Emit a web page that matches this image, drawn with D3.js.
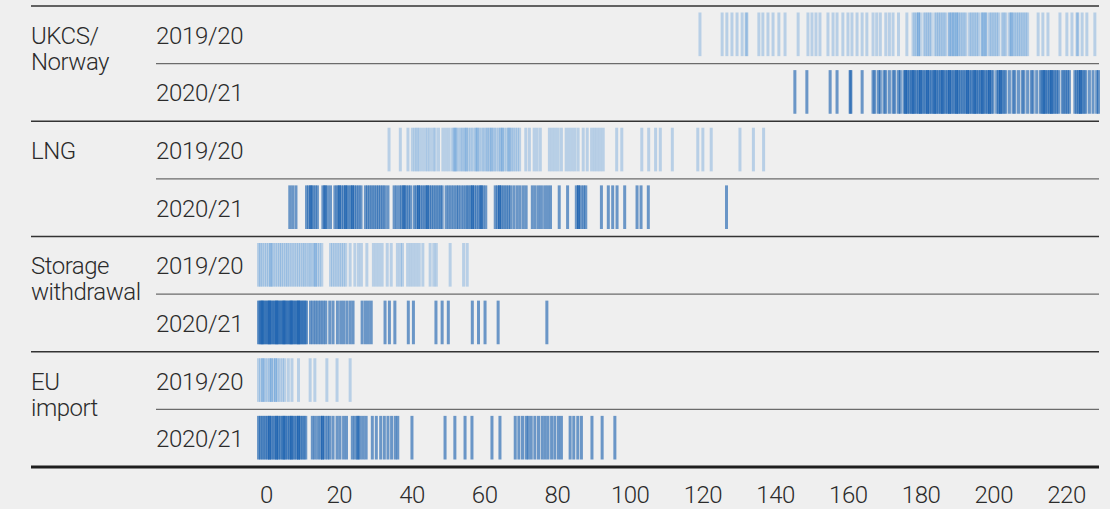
<!DOCTYPE html>
<html>
<head>
<meta charset="utf-8">
<script src="https://cdn.jsdelivr.net/npm/d3@7"></script>
<style>
  html, body { margin: 0; padding: 0; background: #efefef; }
  svg { display: block; }
  text { font-family: Roboto, "Liberation Sans", sans-serif; font-weight: 300; fill: #2b2b2b; }
</style>
</head>
<body>
<svg id="drawing_region"></svg>
<script>
// groups and seasons (rows)
const groups = ["UKCS/|Norway", "LNG", "Storage|withdrawal", "EU|import"];
const seasons = ["2019/20", "2020/21"];
const ticks = [0, 20, 40, 60, 80, 100, 120, 140, 160, 180, 200, 220];

// daily flow values
const ukcs1920 = [121.4, 127.5, 128.8, 130.2, 131.6, 133.0, 134.1, 134.3, 137.6, 138.7, 140.1, 141.5, 143.1, 144.8,
  148.4, 151.1, 152.2, 153.3, 154.4, 156.6, 158.0, 159.1, 160.7, 162.1, 163.2, 164.6, 166.0, 167.3,
  169, 170, 171, 172.5, 173.5, 174.5, 176, 178.3,
  180, 180.5, 181, 181.5, 181.5, 182, 183, 183.5, 184, 184.5, 185, 186, 186.5, 187, 187.5, 188, 188.5, 189,
  190, 190, 190.5, 191, 191, 191.5, 192, 192, 192.5, 193, 193.5, 194, 194.5, 195.5, 196, 196.5, 197, 197.5,
  198, 199, 199, 199.5, 200, 200, 201, 201.5, 202, 202.5, 203, 203.5, 204.5, 205, 205.5, 206.5, 207, 207,
  207.5, 208, 208.5, 209, 209.5, 210, 210.5, 211, 211.5,
  214.4, 215.7, 217.1, 220.4, 222.3, 223.7, 225.1, 225.3, 226.5, 227.8, 230.0];
const ukcs2021 = [147.5, 150.8, 157.2, 159.1, 162.7, 162.9, 166.0,
  169, 169.5, 170.5, 171, 172, 172.5, 173.5, 174.5, 175, 176, 176.5,
  177.5, 178, 178, 178.5, 179, 179.5, 180, 180, 180.5, 181, 181.5, 182, 182, 182.5, 183, 183.5, 184, 184,
  184.5, 185, 185.5, 186, 186, 186.5, 187, 187.5, 188, 188, 188.5, 189, 189.5, 190, 190, 190.5, 191, 191.5,
  192, 192, 192.5, 193, 193.5, 194, 194.5, 195, 195, 195.5, 196, 196.5, 197, 197, 197.5, 198, 198.5, 199,
  199, 199.5, 200, 200.5, 201, 201, 201.5, 202,
  203, 203.5, 204, 204, 204.5, 205, 205.5,
  206.5, 207.5, 208, 209, 210, 210.5, 211.5, 212.5, 213, 214,
  215, 215.5, 216, 216, 216.5, 217, 217.5, 218, 218, 218.5, 219, 219.5, 220,
  221, 221.5, 222, 222.5, 223,
  224.5, 225, 225.5, 226, 226, 226.5, 227, 227.5,
  228.5, 229.5, 230.5, 231];
const lng1920 = [35.9, 39, 41.1, 42.3, 43, 43.6, 44.2, 45, 45.8, 46.5, 47.2, 48, 48.6, 49.5, 50.7, 51.5, 52.3,
  53.2, 53.8, 54, 54.3, 54.8, 55.5, 56, 56.5, 57, 57.2, 57.8, 58.4, 59, 59.7, 60, 60.3, 60.8, 61.5, 62, 62.6,
  63, 63.5, 64, 64.2, 64.8, 65.3, 66, 66.5, 67, 67, 67.6, 68.3, 68.8, 69, 69.5, 70, 70.6, 71.2, 71.8,
  73.5, 74.5, 75.8, 76.6, 77.5, 80, 80.8, 81.6, 82.4, 83.3, 84.6, 85.4, 86.2, 87, 87.9, 89.3, 90.4,
  91.6, 92.4, 93.2, 94, 94.8, 98.5, 99.9, 105.4, 107.3, 109.2, 110.5, 113.8, 120.8, 122.2, 124.5,
  132.4, 136.1, 138.9];
const lng2021 = [8.6, 9.4, 10.3, 13.2, 13.8, 14.4, 14.4, 15, 15.6, 16.2, 17.7, 18.3, 18.3, 19, 19.8,
  21, 21.6, 22.2, 22.2, 22.8, 23.4, 24, 24, 24.6, 25.2, 25.8, 25.8, 26.4, 27, 27.6, 28.2,
  29.4, 30, 30.6, 31.2, 31.8, 32.4, 33, 33.6, 34.2, 34.8, 35.6, 37.3, 38, 38.8, 39.4, 40, 40, 40.6,
  41.2, 41.8, 42.8, 43.4, 44, 44, 44.6, 45.2, 45.8, 46.4, 46.4, 47, 47.6, 48.2, 48.8, 49.4, 50, 50.5,
  51.6, 52.3, 53, 53.7, 54.4, 55, 55.7, 56.4, 57.1, 57.6, 58.2, 58.8, 58.8, 59.4, 60, 60.6, 61.2, 61.2,
  61.8, 62.5, 65.1, 65.7, 66.3, 66.3, 66.9, 67.5, 68.1, 68.7, 69.3, 70.2, 71.1, 71.9, 72.8, 73.6,
  75.3, 76.1, 77, 77.8, 78.7, 79.5, 80.3, 82.7, 85, 87.4, 88, 88, 88.7, 89.4, 90, 94.3, 96.2, 97.4,
  98.6, 100.7, 104.1, 105.2, 107.2, 128.7];
const storage1920 = [0, 0.5, 1, 1.6, 2.2, 2.8, 3.4, 3.4, 4, 4.6, 5.2, 5.8, 6.3, 6.9, 7.5, 8, 8.6, 9.2, 9.8,
  10.4, 11, 11.6, 12.2, 12.7, 13.3, 13.9, 14.4, 15, 15.6, 15.6, 16.2, 16.8, 17.4,
  19.8, 20.4, 21, 21.6, 22.2, 22.8, 23.4, 24, 25.2, 26.5, 27.5, 28.3, 29.8, 31.6, 32.4, 33.2, 34,
  35.4, 36.5, 38.2, 39, 39.6, 41, 41.8, 42.6, 43.4, 44.2, 45.2, 47.2, 48.2, 48.9, 52.7, 56.4, 57.4];
const storage2021 = [0, 0.4, 0.8, 1, 1.2, 1.6, 2, 2.4, 2.8, 3, 3.2, 3.6, 4, 4.4, 4.8, 5, 5.2, 5.6, 6, 6.4,
  6.8, 7, 7.2, 7.6, 8, 8.4, 8.8, 9, 9.2, 9.6, 10, 10.4, 10.8, 11, 11.2, 11.6, 12, 12.4, 12.8, 13.2,
  14.3, 15, 15.7, 16.4, 17.1, 17.8, 18.5, 19.6, 20.5, 21.7, 22.6, 23.4, 24.3, 25.2, 26,
  28.5, 29.4, 30.2, 31, 34.8, 36, 37.5, 41.2, 42.6, 48.8, 50.5, 52.2, 58.8, 60.5, 62.3, 65.9, 79.3];
const eu1920 = [0, 0.6, 1.2, 1.2, 1.8, 2.4, 3, 3.5, 3.5, 4.1, 4.7, 4.7, 5.3, 5.9, 6.6, 7.2, 8.2, 9.2, 11,
  14.2, 15.5, 18.8, 21.6, 25.2];
const eu2021 = [0, 0.5, 1, 1.5, 2, 2.5, 3, 3, 3.5, 4, 4.5, 5, 5, 5.5, 6, 6.5, 7, 7, 7.5, 8, 8.5, 9, 9,
  9.5, 10, 10.5, 11, 11, 11.5, 12, 12.5, 13,
  14.8, 15.5, 16.3, 17, 17.6, 17.6, 18.3, 19, 19.6, 20.5, 21.6, 22.4, 23.4, 24.2,
  25.8, 26.5, 27.3, 27.3, 28, 28.8, 29.6, 31.3, 32.4, 33.6, 34.6, 35.6, 36.6, 37.6, 38.3,
  42.2, 51.3, 54.0, 56.8, 58.7, 64.2, 66.4,
  70.6, 71.6, 72.6, 73.6, 74.2, 75, 76, 77, 78, 78.8, 79.6, 80.6, 81.5, 82.5, 83.3,
  85.7, 86.7, 87.8, 88.8, 91.7, 94.5, 98.0];

const rowValues = [ukcs1920, ukcs2021, lng1920, lng2021, storage1920, storage2021, eu1920, eu2021];

const data = [];
groups.forEach((g, gi) => {
    seasons.forEach((s, si) => {
        data.push({ key: g + "-" + s, group: g, season: s, first: si == 0, values: rowValues[gi * 2 + si] });
    });
});

class BarcodeChart {

    constructor( config, data ) {
        this.config = config;
        this.data = data;
        this.init();
    }

    init() {
        let self = this;

        self.svg = d3.select( self.config.parent )
            .attr('width', self.config.width)
            .attr('height', self.config.height);

        self.xscale = d3.scaleLinear()
            .domain( [0, 220] )
            .range( [258.5, 1058.5] );

        self.yscale = d3.scaleBand()
            .domain( self.data.map(d => d.key) )
            .range( [6, 467] );

        self.xaxis = d3.axisBottom( self.xscale )
            .tickValues( ticks )
            .tickSize(0)
            .tickFormat( d3.format('d') );
    }

    render() {
        let self = this;
        const bw = self.yscale.bandwidth();
        const colors = { "2019/20": "rgb(78,148,214)", "2020/21": "rgb(24,96,174)" };
        const alpha = { "2019/20": 0.34, "2020/21": 0.62 };

        const rows = self.svg.selectAll('g.row')
            .data(self.data)
            .join('g')
            .attr('class', 'row')
            .attr('transform', d => `translate(0, ${self.yscale(d.key)})`);

        rows.selectAll('rect')
            .data(d => d.values.map(v => ({ v: v, season: d.season })))
            .join('rect')
            .attr('x', d => self.xscale(d.v) - 1.5)
            .attr('y', 6.5)
            .attr('width', 3)
            .attr('height', bw - 14)
            .style('fill', d => colors[d.season])
            .style('fill-opacity', d => alpha[d.season]);

        // separators
        rows.append('line')
            .attr('x1', d => d.first ? 31 : 156)
            .attr('x2', 1099)
            .attr('y1', 0)
            .attr('y2', 0)
            .style('stroke', d => d.first ? '#333' : '#6b6b6b')
            .style('stroke-width', 1.4);

        rows.append('text')
            .attr('x', 156)
            .attr('y', bw / 2 + 9)
            .style('font-size', '24px')
            .style('letter-spacing', '-0.3px')
            .text(d => d.season);

        rows.filter(d => d.first)
            .append('text')
            .attr('x', 31)
            .attr('y', bw / 2 + 9)
            .style('font-size', '24px')
            .style('letter-spacing', '-0.5px')
            .selectAll('tspan')
            .data(d => d.group.split('|'))
            .join('tspan')
            .attr('x', 31)
            .attr('dy', (d, i) => i == 0 ? 0 : 26)
            .text(d => d);

        // axis
        self.svg.append('line')
            .attr('x1', 31)
            .attr('x2', 1099)
            .attr('y1', 467)
            .attr('y2', 467)
            .style('stroke', '#1e1e1e')
            .style('stroke-width', 3);

        const ag = self.svg.append('g')
            .attr('transform', `translate(7.5, 467)`)
            .call( self.xaxis );
        ag.select('.domain').remove();
        ag.selectAll('text')
            .attr('y', 36)
            .attr('dy', 0)
            .style('font-size', '24px')
            .style('letter-spacing', '-0.5px')
            .style('font-family', 'Roboto, "Liberation Sans", sans-serif')
            .style('fill', '#2b2b2b');
    }
}

const chart = new BarcodeChart({ parent: '#drawing_region', width: 1110, height: 509 }, data);
chart.render();
</script>
</body>
</html>
